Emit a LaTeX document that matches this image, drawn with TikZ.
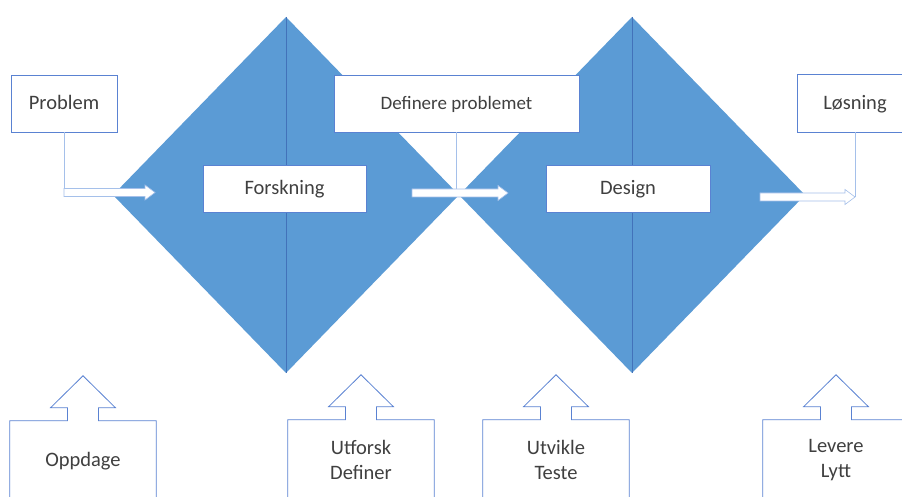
\documentclass[tikz,border=0pt]{standalone}
\usepackage{fontspec}
\setmainfont{Carlito}
\usetikzlibrary{calc}

\definecolor{diafill}{RGB}{91,155,213}
\definecolor{dialine}{RGB}{66,114,186}
\definecolor{boxline}{RGB}{90,130,210}
\definecolor{arrline}{RGB}{165,192,234}
\definecolor{txtgray}{RGB}{64,64,64}

% white block arrow from #1 to #2 (tip)
\newcommand\blockarrow[2]{%
  \draw[blockarr] let \p1=(#1), \p2=(#2) in
    (\x1,\y1+4pt) -- (\x2-10pt,\y1+4pt) -- (\x2-10pt,\y1+7.5pt) -- (\x2,\y1)
    -- (\x2-10pt,\y1-7.5pt) -- (\x2-10pt,\y1-4pt) -- (\x1,\y1-4pt) -- cycle;}

% outline of an up-arrow callout round node #1
\newcommand\upcallout[1]{%
  \draw[calloutline] (#1.south west) -- (#1.north west) -- ([xshift=-15.5pt]#1.north)
    -- ++(0,-13) -- ++(-17,0) -- ++(32.5,-32) -- ++(32.5,32) -- ++(-17,0)
    -- ++(0,13) -- (#1.north east) -- (#1.south east);}

\begin{document}
\begin{tikzpicture}[
    x=1pt, y=-1pt,
    font=\fontsize{20.5}{25}\selectfont, text=txtgray,
    textbox/.style={draw=boxline, fill=white, line width=0.8pt, inner sep=0pt,
      text height=14.6pt, text depth=1.6pt},
    callout/.style={inner sep=0pt, align=center, minimum width=146pt, minimum height=80pt},
    calloutline/.style={draw=boxline, line width=0.8pt},
    conn/.style={draw=arrline, line width=0.8pt},
    blockarr/.style={draw=arrline, fill=white, line width=0.6pt}]

  \fill[white] (0,0) rectangle (902,497);
  \useasboundingbox (0,0) rectangle (902,497);

  % the two diamonds
  \foreach \cx in {286,632} {
    \fill[diafill] (\cx,17) -- (\cx+173,195) -- (\cx,373) -- (\cx-173,195) -- cycle;
    \draw[dialine, line width=0.8pt] (\cx,17) -- (\cx,373);
  }

  \node[textbox, minimum width=163pt, minimum height=47pt] (forskning) at (284.5,188.5) {Forskning};
  \node[textbox, minimum width=164pt, minimum height=47pt] (design) at (628,188.5) {Design};

  \node[textbox, minimum width=106pt, minimum height=57pt] (problem) at (64,103.5) {Problem};
  \node[textbox, minimum width=245pt, minimum height=57pt,
        font=\fontsize{19}{23}\selectfont] (definere) at (456.5,103.5) {Definere problemet};
  \node[textbox, minimum width=116pt, minimum height=58pt] (losning) at (855,103) {Løsning};

  \coordinate (a1s) at (64,192.5);
  \coordinate (a1e) at (155,192.5);
  \coordinate (a2s) at (412,193);
  \coordinate (a2e) at (508,193);
  \coordinate (a3s) at (760,197);
  \coordinate (a3e) at (855,197);

  \draw[conn] (problem.south) -- (a1s);
  \draw[conn] (definere.south) -- (definere.south |- a2s);
  \draw[conn] (losning.south) -- (a3e);

  \blockarrow{a1s}{a1e}
  \blockarrow{a2s}{a2e}
  \blockarrow{a3s}{a3e}

  % callouts at the bottom
  \node[callout] (oppdage) at (83,461) {Oppdage};
  \node[callout] (utforsk) at (361,460) {Utforsk\\Definer};
  \node[callout] (utvikle) at (556,460) {Utvikle\\Teste};
  \node[callout] (levere) at (836,460) {Levere\\Lytt};

  \upcallout{oppdage}
  \upcallout{utforsk}
  \upcallout{utvikle}
  \upcallout{levere}
\end{tikzpicture}
\end{document}
